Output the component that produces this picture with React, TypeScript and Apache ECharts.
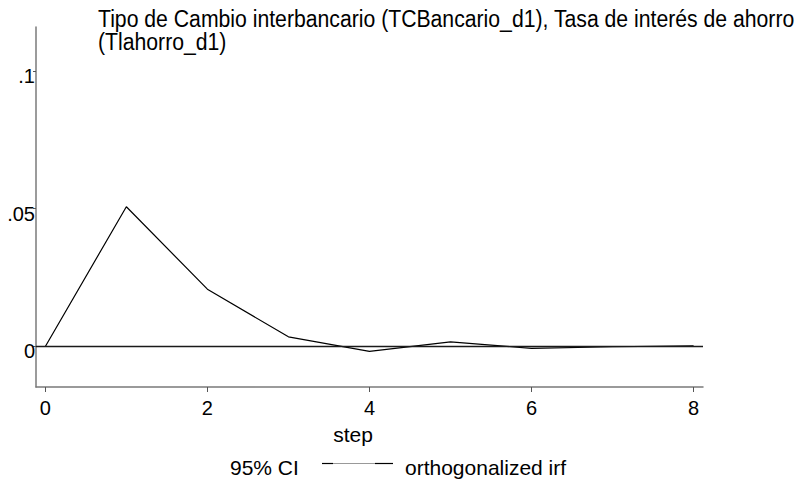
import React, { useEffect, useRef } from "react";
import * as echarts from "echarts";

const steps = [0, 1, 2, 3, 4, 5, 6, 7, 8];
const irf = [0, 0.0507, 0.0208, 0.0035, -0.0018, 0.0017, -0.0007, -0.0001, 0.0002];
const xTicks = [0, 2, 4, 6, 8];
const yTicks = [0, 0.05, 0.1];
const titleLines = [
  "Tipo de Cambio interbancario (TCBancario_d1), Tasa de interés de ahorro",
  "(Tlahorro_d1)",
];
const xTitle = "step";
const legendLabels = ["95% CI", "orthogonalized irf"];

const FONT = "'Liberation Sans', Arial, Helvetica, sans-serif";

export default function App() {
  const ref = useRef<HTMLDivElement>(null);
  useEffect(() => {
    document.body.style.margin = "0";
    const chart = echarts.init(ref.current!, null, { renderer: "svg" });
    const fmt = (v: number) => {
      if (Math.abs(v) < 1e-9) return "0";
      return String(+v.toFixed(3)).replace(/^0\./, ".").replace(/^-0\./, "-.");
    };
    chart.setOption({
      animation: false,
      backgroundColor: "#ffffff",
      textStyle: { fontFamily: FONT },
      grid: { left: 36, right: 101, top: 27, bottom: 93, containLabel: false },
      xAxis: {
        type: "value",
        min: -0.115,
        max: 8.116,
        splitLine: { show: false },
        axisLine: { show: true, onZero: false, lineStyle: { color: "#7a7a7a", width: 1.5 } },
        axisTick: { show: true, customValues: xTicks, length: 5, lineStyle: { color: "#555", width: 1 } },
        axisLabel: {
          customValues: xTicks,
          color: "#000",
          fontSize: 20,
          fontFamily: FONT,
          margin: 11,
          formatter: (v: number) => String(v),
        },
      },
      yAxis: {
        type: "value",
        min: -0.0147,
        max: 0.1159,
        splitLine: { show: false },
        axisLine: { show: true, onZero: false, lineStyle: { color: "#7a7a7a", width: 1.5 } },
        axisTick: { show: true, customValues: yTicks, length: 3, lineStyle: { color: "#555", width: 1 } },
        axisLabel: {
          customValues: yTicks,
          color: "#000",
          fontSize: 20,
          fontFamily: FONT,
          margin: 1,
          verticalAlign: "top",
          lineHeight: 10,
          formatter: fmt,
        },
      },
      series: [
        {
          name: legendLabels[1],
          type: "line",
          data: steps.map((s, i) => [s, irf[i]]),
          showSymbol: false,
          symbol: "none",
          lineStyle: { color: "#000", width: 1.2 },
          markLine: {
            silent: true,
            symbol: ["none", "none"],
            label: { show: false },
            lineStyle: { color: "#1a1a1a", width: 1.3, type: "solid" },
            data: [{ yAxis: 0 }],
          },
        },
      ],
      graphic: [
        {
          type: "text",
          x: 98,
          y: 7,
          scaleX: 0.922,
          style: {
            text: titleLines.join("\n"),
            fontSize: 23,
            lineHeight: 23.5,
            fontFamily: FONT,
            fill: "#000",
            align: "left",
            verticalAlign: "top",
          },
        },
        {
          type: "text",
          x: 353,
          y: 434,
          style: {
            text: xTitle,
            fontSize: 21,
            fontFamily: FONT,
            fill: "#000",
            align: "center",
            verticalAlign: "middle",
          },
        },
        {
          type: "text",
          x: 230,
          y: 467,
          style: {
            text: legendLabels[0],
            fontSize: 21,
            fontFamily: FONT,
            fill: "#000",
            align: "left",
            verticalAlign: "middle",
          },
        },
        {
          type: "line",
          shape: { x1: 322, y1: 463.5, x2: 393, y2: 463.5 },
          style: { stroke: "#999", lineWidth: 1 },
        },
        {
          type: "line",
          shape: { x1: 322, y1: 463.5, x2: 333, y2: 463.5 },
          style: { stroke: "#000", lineWidth: 1.2 },
        },
        {
          type: "line",
          shape: { x1: 375, y1: 463.5, x2: 393, y2: 463.5 },
          style: { stroke: "#000", lineWidth: 1.2 },
        },
        {
          type: "text",
          x: 405,
          y: 467,
          style: {
            text: legendLabels[1],
            fontSize: 21,
            fontFamily: FONT,
            fill: "#000",
            align: "left",
            verticalAlign: "middle",
          },
        },
      ],
    });
    return () => chart.dispose();
  }, []);
  return <div ref={ref} style={{ width: 804, height: 480 }} />;
}
